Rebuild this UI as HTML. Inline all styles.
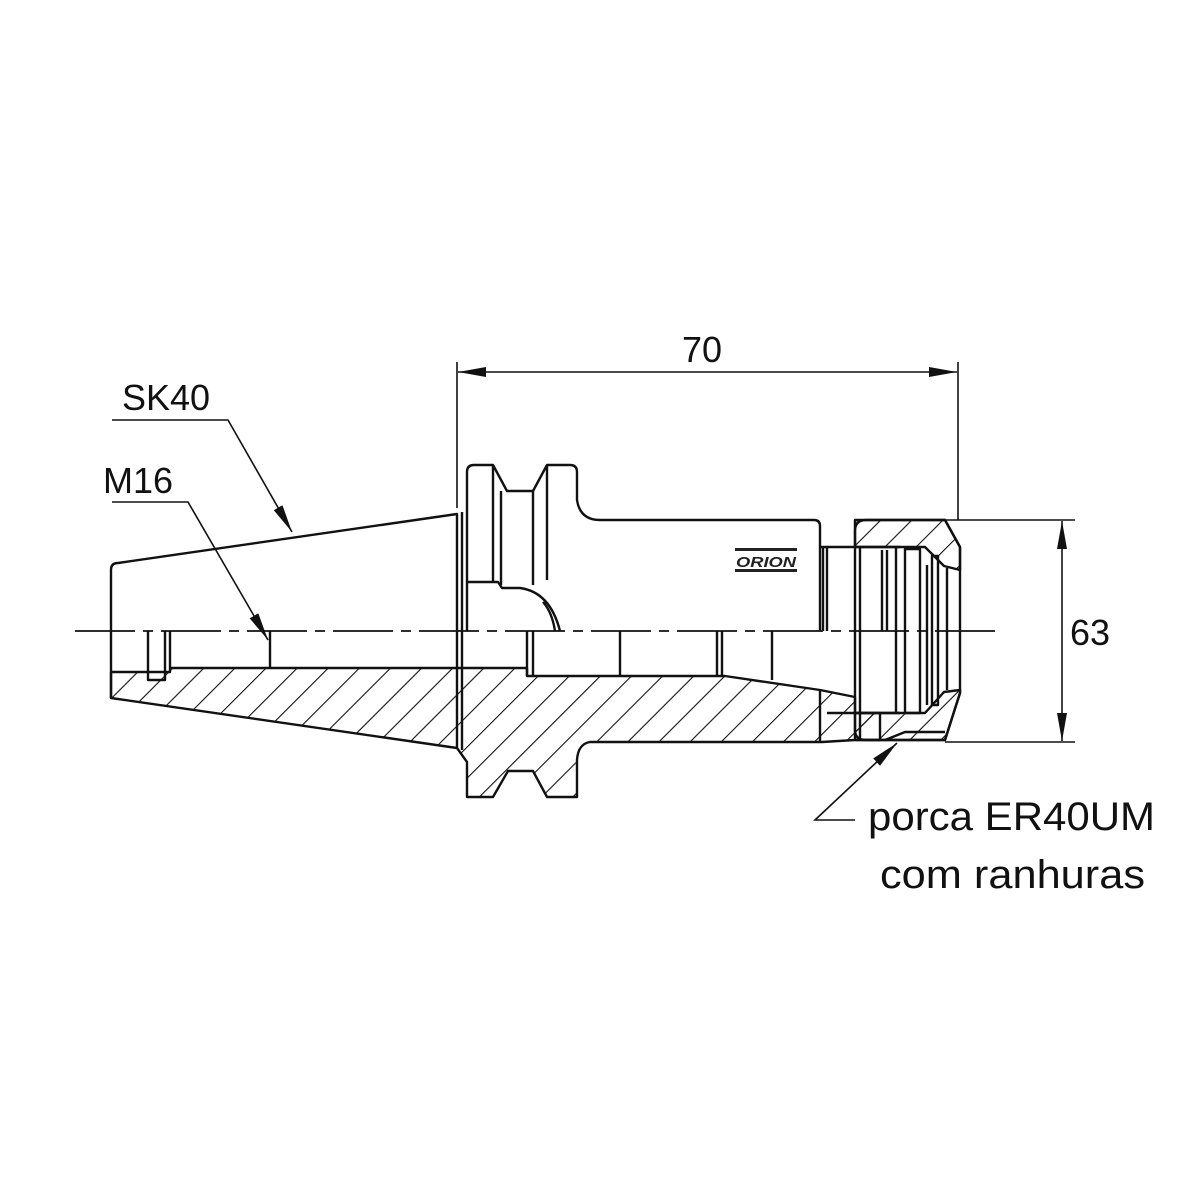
<!DOCTYPE html>
<html><head><meta charset="utf-8"><style>html,body{margin:0;padding:0;background:#fff}svg{display:block}</style></head>
<body>
<svg width="1200" height="1200" viewBox="0 0 1200 1200" xmlns="http://www.w3.org/2000/svg">
<defs>
<pattern id="h" patternUnits="userSpaceOnUse" width="22" height="22" patternTransform="rotate(45)">
<line x1="0" y1="0" x2="0" y2="22" stroke="#111" stroke-width="2.2"/>
</pattern>
<marker id="b" markerWidth="28" markerHeight="10" refX="28" refY="5" orient="auto-start-reverse" markerUnits="userSpaceOnUse">
<path d="M0,0 L28,5 L0,10 z" fill="#111"/></marker>
</defs>
<g fill="none" stroke="#111" stroke-width="2.4" stroke-linejoin="round">
<path d="M111,672 L170,672 L170,668 L270,668 L270,668 L527,668 L527,676 L725,676 L820,690 L855,697 L855,713 L880,713 L880,740 L855,740 L822,742 L590,742 Q578,744 577,760 L577,797 L547,797 L533,771 L508,771 L493,797 L467,797 L467,762 L457,748 L111,698 Z" fill="url(#h)" stroke="#111"/>
<path d="M111,698 L111,570 Q111,563 118,563 L457,514 L457,748"/>
<line x1="462" y1="512" x2="462" y2="750"/>
<path d="M148,631 L148,680 L165,680 L165,631"/>
<path d="M170,631 L170,668"/>
<path d="M270,631 L270,668"/>
<path d="M527,631 L527,676 M533,631 L533,676"/>
<path d="M620,631 L620,676 M717,631 L717,676 M722,631 L722,676 M772,631 L772,680"/>
<path d="M467,631 L467,472 Q467,465 474,465 L493,465 L507,491 L533,491 L547,465 L570,465 Q577,465 577,472 L577,500 Q580,520 600,520 L814,520 Q820,520 820,526 L820,631"/>
<path d="M493,465 L493,582 M501,491 L501,585 M533,491 L533,585 M547,465 L547,580"/>
<path d="M467,582 L498,582 L502,588 L520,588 Q550,592 560,631"/>
<path d="M543,602 Q552,612 555,631"/>
<path d="M820,547 L827,547 L827,631 M823,547 L823,631"/>
<path d="M820,690 L820,742"/>
<path d="M855,531 Q855,520 866,520 L945,520 L960,547 L960,693 L945,740 L866,740 Q855,740 855,730 Z"/>
<path d="M855,520 L945,520 L960,547 L960,570 L944,566 L925,547 L855,547 Z" fill="url(#h)"/>
<path d="M855,713 L925,713 L944,692 L960,690 L960,693 L945,740 L855,740 Z" fill="url(#h)"/>
<path d="M827,547 L900,547 M827,713 L900,713"/>
<path d="M860,547 L860,740 M882,550 L882,631 M887,550 L887,631 M896,547 L896,713 M905,549 L905,713 L920,713 L920,549 Z M927,565 L927,705 M932,556 L932,705 L938,705 L938,556 Z M947,568 L947,690"/>
<path d="M885,740 L905,732 L945,732"/>
<line x1="75" y1="631" x2="995" y2="631" stroke-width="1.8" stroke-dasharray="60,8,10,8"/>
</g>
<g stroke="#111" stroke-width="1.6" fill="none">
<line x1="457" y1="362" x2="457" y2="508"/>
<line x1="958" y1="362" x2="958" y2="520"/>
<line x1="458" y1="372" x2="957" y2="372" marker-start="url(#b)" marker-end="url(#b)"/>
<line x1="945" y1="520" x2="1075" y2="520"/>
<line x1="945" y1="742" x2="1075" y2="742"/>
<line x1="1062" y1="521" x2="1062" y2="741" marker-start="url(#b)" marker-end="url(#b)"/>
<polyline points="112,420 228,420 292,532" marker-end="url(#b)"/>
<polyline points="112,502 188,502 268,640" marker-end="url(#b)"/>
<polyline points="855,820 815,820 897,743" marker-end="url(#b)"/>
</g>
<g font-family="Liberation Sans, sans-serif" fill="#111">
<text x="682" y="362" font-size="36">70</text>
<text x="1070" y="645" font-size="36">63</text>
<text x="122" y="410" font-size="36">SK40</text>
<text x="103" y="493" font-size="36">M16</text>
<text x="868" y="830" font-size="40" textLength="287" lengthAdjust="spacingAndGlyphs">porca ER40UM</text>
<text x="880" y="888" font-size="40" textLength="265" lengthAdjust="spacingAndGlyphs">com ranhuras</text>
</g>
<rect x="735" y="548" width="62" height="3" fill="#222"/>
<rect x="735" y="569" width="62" height="3" fill="#222"/>
<text x="736" y="567" font-family="Liberation Sans, sans-serif" font-weight="bold" font-style="italic" font-size="15" fill="#222" textLength="60" lengthAdjust="spacingAndGlyphs">ORION</text>
</svg>
</body></html>
